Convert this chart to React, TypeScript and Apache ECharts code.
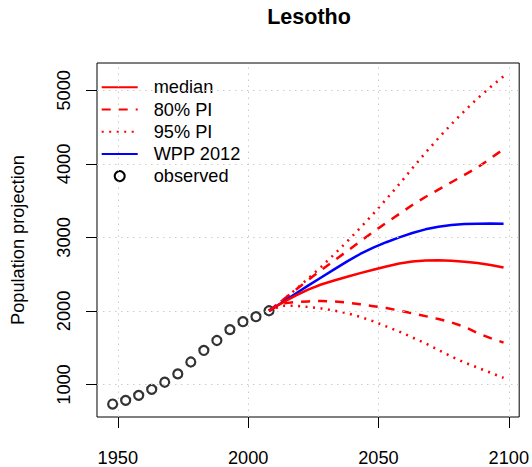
import { useEffect, useRef } from 'react';
import * as echarts from 'echarts';

const FONT = '"Liberation Sans", Arial, Helvetica, sans-serif';
const FS = 18.2;

// observed population (thousands)
const obsYears = [1948, 1953, 1958, 1963, 1968, 1973, 1978, 1983, 1988, 1993, 1998, 2003, 2008];
const observed = [734, 784, 852, 933, 1031, 1144, 1306, 1463, 1598, 1746, 1854, 1922, 2003];

// projections
const projYears = [2008, 2013, 2018, 2023, 2028, 2033, 2038, 2043, 2048, 2053, 2058, 2063, 2068, 2073, 2078, 2083, 2088, 2093, 2098];
const median = [2003, 2110, 2205, 2290, 2360, 2415, 2465, 2515, 2560, 2605, 2645, 2672, 2687, 2688, 2682, 2670, 2652, 2625, 2590];
const upper80 = [2003, 2140, 2280, 2420, 2555, 2685, 2815, 2945, 3075, 3200, 3320, 3440, 3550, 3650, 3750, 3850, 3950, 4075, 4200];
const lower80 = [2003, 2100, 2120, 2130, 2135, 2130, 2115, 2090, 2065, 2040, 2005, 1970, 1930, 1890, 1845, 1785, 1700, 1630, 1570];
const upper95 = [2003, 2140, 2285, 2440, 2600, 2770, 2945, 3130, 3320, 3520, 3725, 3940, 4150, 4350, 4540, 4720, 4890, 5045, 5190];
const lower95 = [2003, 2070, 2070, 2055, 2035, 2005, 1970, 1920, 1860, 1790, 1720, 1640, 1560, 1470, 1380, 1300, 1230, 1160, 1090];
const wpp2012 = [2003, 2115, 2230, 2345, 2455, 2565, 2675, 2775, 2860, 2935, 3000, 3060, 3110, 3145, 3170, 3182, 3187, 3188, 3187];

const xTicks = [1950, 2000, 2050, 2100];
const yTicks = [1000, 2000, 3000, 4000, 5000];

const pairs = (xs: number[], ys: number[]) => xs.map((x, i) => [x, ys[i]]);

export default function App() {
  const divRef = useRef<HTMLDivElement>(null);

  useEffect(() => {
    if (!divRef.current) return;
    const chart = echarts.init(divRef.current, null, { renderer: 'svg' });

    const lineSeries = (name: string, ys: number[], color: string, type: any) => ({
      type: 'line',
      name,
      data: pairs(projYears, ys),
      symbol: 'none',
      z: 3,
      lineStyle: { color, width: 2.5, type, cap: 'butt' },
      itemStyle: { color },
      emphasis: { disabled: true },
    });

    chart.setOption({
      animation: false,
      title: {
        text: 'Lesotho',
        left: 309,
        top: 6,
        textAlign: 'center',
        padding: 0,
        textStyle: { fontSize: 21.5, fontWeight: 'bold', fontFamily: FONT, color: '#000' },
      },
      legend: {
        orient: 'vertical',
        left: 100.7,
        top: 78.3,
        padding: 0,
        itemWidth: 36,
        itemHeight: 10,
        itemGap: 4.2,
        selectedMode: false,
        // hide the symbol drawn on line icons, keep it for "observed"
        itemStyle: { opacity: 0 },
        data: [
          'median',
          '80% PI',
          '95% PI',
          'WPP 2012',
          { name: 'observed', itemStyle: { opacity: 1 } },
        ],
        textStyle: { fontSize: FS, lineHeight: 18, fontFamily: FONT, color: '#000', padding: [0, 0, 0, 11] },
      },
      grid: {
        left: 97,
        right: 11,
        top: 63,
        bottom: 48,
        show: true,
        borderColor: '#000',
        borderWidth: 1,
        backgroundColor: 'transparent',
      },
      xAxis: {
        type: 'value',
        min: 1942,
        max: 2104,
        axisLine: { show: false },
        splitLine: { show: false },
        axisTick: { show: true, inside: false, length: 11, customValues: xTicks, lineStyle: { color: '#000' } },
        axisLabel: {
          customValues: xTicks,
          margin: 32,
          fontSize: FS,
          color: '#000',
          fontFamily: FONT,
          formatter: (v: number) => String(v),
        },
      },
      yAxis: {
        type: 'value',
        min: 558,
        max: 5372,
        name: 'Population projection',
        nameLocation: 'middle',
        nameRotate: 90,
        nameGap: 70,
        nameTextStyle: { fontSize: FS, color: '#000', fontFamily: FONT },
        axisLine: { show: false },
        splitLine: { show: false },
        axisTick: { show: true, inside: false, length: 11, customValues: yTicks, lineStyle: { color: '#000' } },
        axisLabel: {
          customValues: yTicks,
          rotate: 90,
          margin: 24,
          fontSize: FS,
          color: '#000',
          fontFamily: FONT,
          formatter: (v: number) => String(v),
        },
      },
      series: [
        {
          type: 'line',
          name: 'grid',
          data: [],
          z: 1,
          silent: true,
          markLine: {
            silent: true,
            symbol: ['none', 'none'],
            label: { show: false },
            lineStyle: { color: '#cccccc', width: 1, type: [1.5, 4.5] },
            emphasis: { disabled: true },
            data: [...xTicks.map((v) => ({ xAxis: v })), ...yTicks.map((v) => ({ yAxis: v }))],
          },
        },
        {
          type: 'scatter',
          name: 'observed',
          data: pairs(obsYears, observed),
          symbol: 'circle',
          symbolSize: 9,
          z: 2,
          itemStyle: { color: 'rgba(0,0,0,0)', borderColor: '#000', borderWidth: 2.2 },
          emphasis: { disabled: true },
        },
        lineSeries('95% PI', upper95, '#ff0000', [2, 5.5]),
        lineSeries('95% PI', lower95, '#ff0000', [2, 5.5]),
        lineSeries('80% PI', upper80, '#ff0000', [9, 8]),
        lineSeries('80% PI', lower80, '#ff0000', [9, 8]),
        lineSeries('WPP 2012', wpp2012, '#0000ff', 'solid'),
        lineSeries('median', median, '#ff0000', 'solid'),
      ],
    });

    return () => chart.dispose();
  }, []);

  return (
    <div
      ref={divRef}
      style={{ position: 'fixed', left: 0, top: 0, width: 532, height: 467, background: '#fff' }}
    />
  );
}
